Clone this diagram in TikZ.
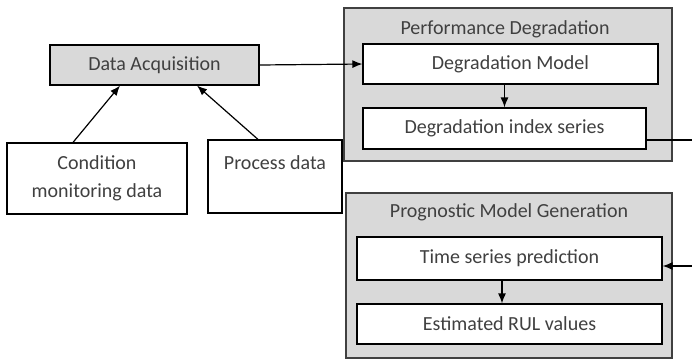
\documentclass[tikz,border=0pt]{standalone}
\usepackage{fontspec}
\setmainfont{Carlito}
\usepackage{tikz}
\usetikzlibrary{arrows.meta}
\definecolor{txt}{HTML}{404040}
\definecolor{shade}{HTML}{D9D9D9}

\begin{document}
\begin{tikzpicture}[x=0.5pt, y=-0.5pt, >={Latex[length=5pt,width=4pt]},
    line width=0.6pt,
    font=\fontsize{10}{14}\selectfont,
    sz/.style 2 args={minimum width=#1*0.5pt, minimum height=#2*0.5pt},
    box/.style={draw, fill=white, text=txt, inner sep=0pt, align=center},
    greybox/.style={box, fill=shade},
    group/.style={draw=black!75, fill=shade, inner sep=0pt},
    title/.style={text=txt, inner sep=0pt}]
            \useasboundingbox (0,0) rectangle (692,360);

            \node [greybox, sz={209}{40}] (acq) at (154.5,65) {Data Acquisition};
            \node [box, sz={180}{71}] (cond) at (97,178.5) {Condition\\monitoring data};
            \node [box, sz={134}{73}] (proc) at (275,176.5) {Process data\\~};

            \node [group, sz={328}{153}] (perf) at (508,84.5) {};
            \node [title] (perft) at (505,29) {Performance Degradation};
            \node [box, sz={295}{40}] (model) at (510.5,64) {Degradation Model};
            \node [box, sz={283}{41}] (index) at (504.5,128.5) {Degradation index series};

            \node [group, sz={326}{165}] (prog) at (509,275.5) {};
            \node [title] (progt) at (509,212) {Prognostic Model Generation};
            \node [box, sz={305}{43}] (pred) at (509.5,258.5) {Time series prediction};
            \node [box, sz={305}{40}] (rul) at (509.5,324) {Estimated RUL values};

            \coordinate (outR) at (692,140);
            \coordinate (inR) at (692,266);

            \draw [->] ([xshift=-12pt]cond.north) -- ([xshift=-17.25pt]acq.south);
            \draw [->] ([xshift=-8.5pt]proc.north) -- ([xshift=21.25pt]acq.south);
            \draw [->] (acq.east) -- (model.west);
            \draw [->] (index.north |- model.south) -- (index.north);
            \draw (index.east |- outR) -- (outR);
            \draw [->] (inR) -- (inR -| pred.east);
            \draw [->] ([xshift=-3.75pt]pred.south) -- ([xshift=-3.75pt]rul.north);
		\end{tikzpicture}
\end{document}
